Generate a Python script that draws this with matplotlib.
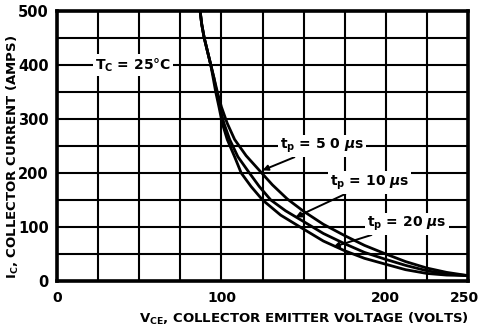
import matplotlib
matplotlib.use("Agg")
import matplotlib.pyplot as plt
from matplotlib.transforms import ScaledTranslation

plt.rcParams['font.family'] = ['Liberation Sans Narrow', 'DejaVu Sans']
plt.rcParams['font.weight'] = 'bold'
plt.rcParams['mathtext.fontset'] = 'custom'
plt.rcParams['mathtext.rm'] = 'Liberation Sans Narrow:bold'
plt.rcParams['mathtext.it'] = 'Liberation Sans Narrow:italic:bold'
plt.rcParams['mathtext.bf'] = 'Liberation Sans Narrow:bold'

# Safe operating area curves: collector-emitter voltage (V) vs collector current (A)
v_50us = [87, 88, 89.5, 91.5, 93.5, 95.5, 97.5, 100, 103.5, 108, 115, 123, 131, 140, 150, 162, 175, 187, 200, 212, 225, 237, 250]
i_50us = [500, 475, 450, 425, 400, 375, 350, 322, 292, 262, 232, 205, 178, 152, 129, 105, 84, 66, 50, 36, 24, 16, 10]

v_10us = [87, 88, 89.5, 91.5, 93.5, 95.5, 97, 99, 101.5, 105, 110, 117, 123, 130, 139, 150, 162, 175, 187, 200, 212, 225, 237, 250]
i_10us = [500, 475, 450, 425, 400, 375, 350, 322, 292, 262, 230, 200, 175, 150, 130, 110, 88, 69, 53, 40, 29, 19, 13, 10]

v_20us = [87, 88, 89.5, 91.5, 93.5, 95, 96.5, 98.5, 100.5, 103.5, 108, 112, 118, 125, 136, 150, 162, 175, 187, 200, 212, 225, 237, 250]
i_20us = [500, 475, 450, 425, 400, 375, 350, 322, 292, 262, 230, 200, 175, 150, 122, 96, 74, 56, 42, 31, 21, 14, 11, 10]

x_ticks = [0, 100, 200, 250]
y_ticks = [0, 100, 200, 300, 400, 500]

fig = plt.figure(figsize=(4.8, 3.31), dpi=100)
ax = fig.add_axes([0.119, 0.151, 0.856, 0.816])

ax.set_xlim(0, 250)
ax.set_ylim(0, 500)
ax.set_xticks(x_ticks)
ax.set_yticks(y_ticks)
ax.set_xticks(range(0, 251, 25), minor=True)
ax.set_yticks(range(0, 501, 50), minor=True)
ax.grid(True, which='both', color='black', linewidth=1.5)
ax.tick_params(which='both', length=0)
ax.tick_params(axis='x', labelsize=10, pad=7)
ax.tick_params(axis='y', labelsize=10.5, pad=6)
for lbl in ax.get_xticklabels() + ax.get_yticklabels():
    lbl.set_fontweight('bold')
# nudge the last x label so it stays inside the figure
last = ax.get_xticklabels()[-1]
last.set_transform(last.get_transform() + ScaledTranslation(-4 / 100, 0, fig.dpi_scale_trans))
for s in ax.spines.values():
    s.set_linewidth(2.6)
ax.set_axisbelow(True)

for v, i in [(v_50us, i_50us), (v_10us, i_10us), (v_20us, i_20us)]:
    ax.plot(v, i, color='black', linewidth=2.0, solid_capstyle='round',
            solid_joinstyle='round', zorder=3)

box = dict(facecolor='white', edgecolor='none', pad=1.5)
ax.text(46, 400, r"T$_\mathrm{C}$ = 25°C", ha='center', va='center',
        fontsize=10, bbox=box, zorder=4)

arrow = dict(arrowstyle='-|>', color='black', lw=1.4, mutation_scale=8,
             shrinkA=0, shrinkB=0)
ax.annotate(r"t$_\mathrm{p}$ = 5 0 $\mu$s", xy=(125, 205), xytext=(161, 250),
            ha='center', va='center', fontsize=10, bbox=box,
            arrowprops=arrow, zorder=4)
ax.annotate(r"t$_\mathrm{p}$ = 10 $\mu$s", xy=(145, 118), xytext=(190, 182),
            ha='center', va='center', fontsize=10, bbox=box,
            arrowprops=arrow, zorder=4)
ax.annotate(r"t$_\mathrm{p}$ = 20 $\mu$s", xy=(168, 63), xytext=(213, 106),
            ha='center', va='center', fontsize=10, bbox=box,
            arrowprops=arrow, zorder=4)

ax.set_xlabel(r"V$_\mathrm{CE}$, COLLECTOR EMITTER VOLTAGE (VOLTS)",
              fontsize=9.5, fontweight='bold')
ax.xaxis.set_label_coords(0.6, -0.11)
ax.set_ylabel(r"I$_\mathrm{C}$, COLLECTOR CURRENT (AMPS)",
              fontsize=9.5, fontweight='bold')
ax.yaxis.set_label_coords(-0.088, 0.46)

fig.savefig("out.png", dpi=100)
